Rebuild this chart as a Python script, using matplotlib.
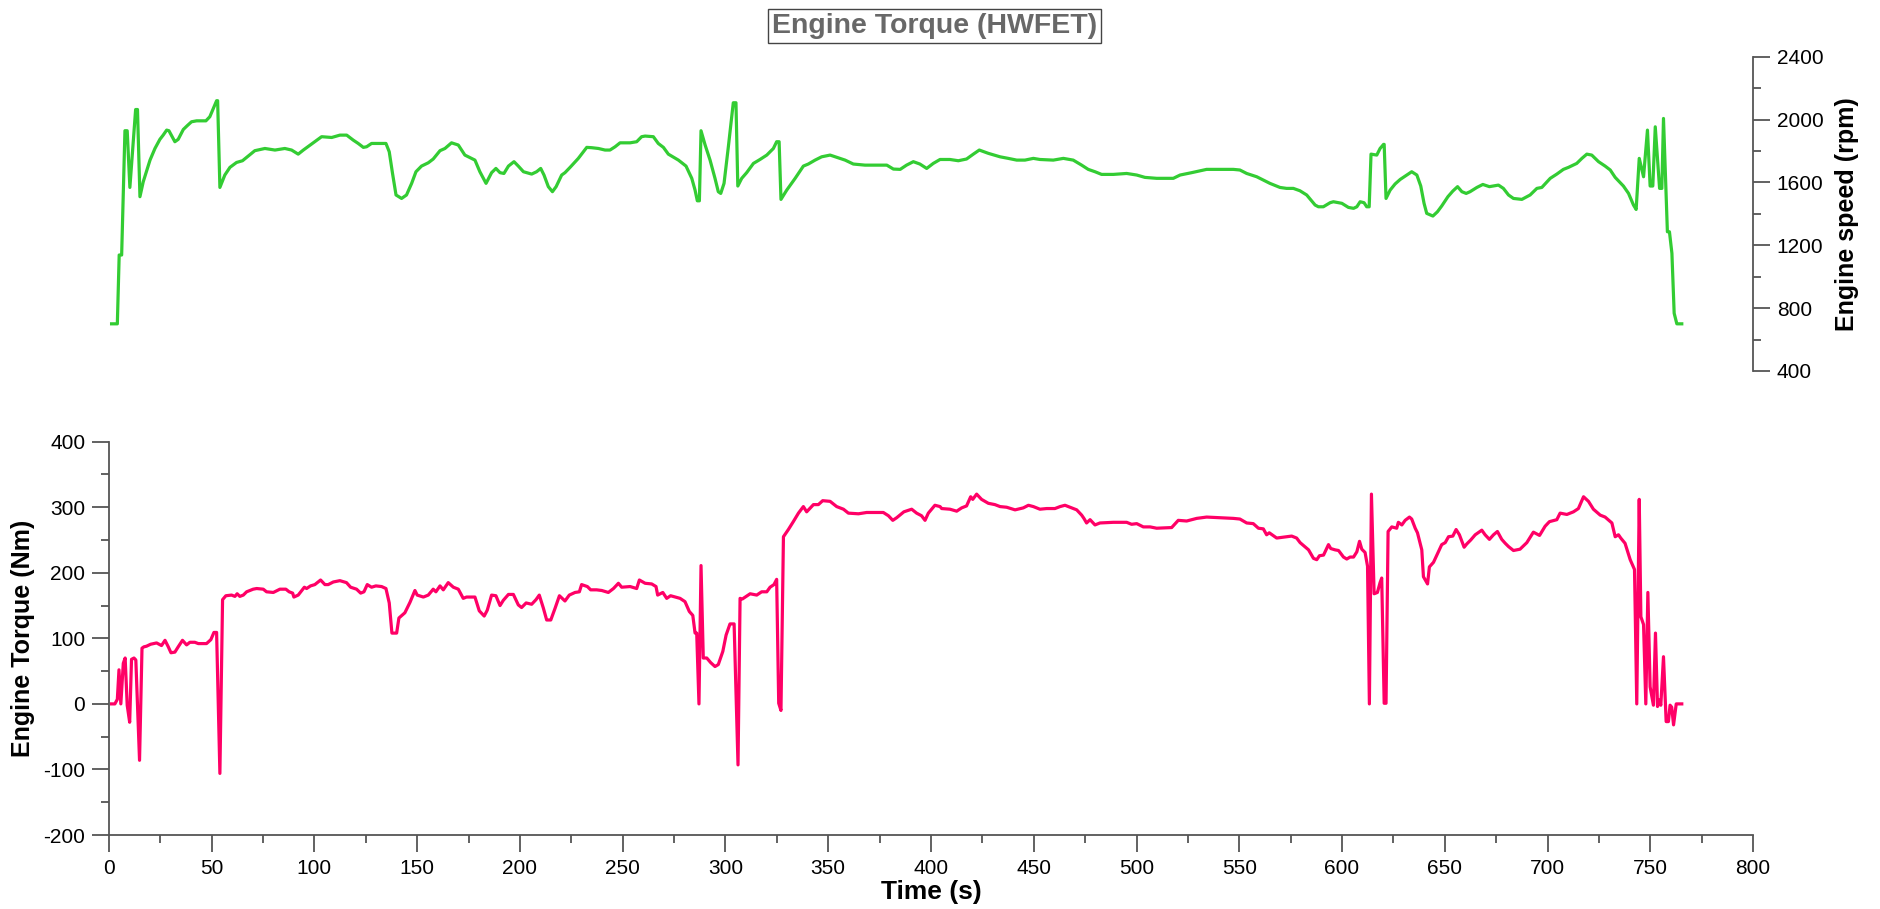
import matplotlib
matplotlib.use("Agg")
from matplotlib import pyplot as plt
from matplotlib.ticker import MultipleLocator

plt.rcParams['font.family'] = ['Liberation Sans', 'DejaVu Sans']
plt.rcParams['axes.unicode_minus'] = False

#--- Engine speed trace (rpm) over the HWFET cycle
speed_time = [1.3, 4.1, 5.0, 6.2, 7.8, 8.9, 10.2, 13.0, 13.9, 15.1, 16.7, 20.0, 22.4, 24.8,
              26.4, 28.1, 29.2, 32.1, 33.7, 36.2, 38.1, 40.2, 42.7, 47.2, 49.1, 50.8, 52.4,
              52.9, 54.0, 56.4, 58.9, 62.1, 65.0, 67.8, 71.0, 75.9, 80.8, 85.6, 88.9, 92.1,
              94.6, 99.4, 103.5, 108.4, 112.4, 115.7, 118.9, 121.3, 123.8, 125.4, 127.8,
              131.9, 134.8, 136.4, 138.0, 139.7, 142.4, 144.8, 147.3, 149.4, 152.1, 155.4,
              157.8, 161.1, 163.5, 166.7, 170.0, 173.2, 178.1, 180.5, 183.5, 186.2, 188.3,
              190.3, 192.2, 194.4, 197.1, 199.2, 201.7, 205.7, 208.1, 210.1, 211.7, 213.8,
              215.8, 217.6, 220.3, 221.9, 224.4, 228.4, 232.5, 234.9, 238.2, 241.4, 243.8,
              246.3, 248.7, 253.6, 256.8, 259.2, 260.9, 264.9, 267.3, 269.8, 272.2, 277.1,
              280.8, 283.6, 285.2, 286.3, 287.3, 288.1, 290.1, 292.5, 294.9, 296.5, 297.7,
              299.3, 301.4, 303.8, 305.1, 306.0, 307.9, 310.3, 313.6, 316.8, 320.1, 323.3,
              324.9, 326.1, 327.0, 329.8, 333.9, 337.9, 340.3, 343.6, 346.8, 350.9, 355.7,
              358.2, 362.2, 367.9, 378.5, 381.7, 385.0, 388.1, 391.4, 394.6, 397.9, 401.1,
              404.4, 409.2, 413.3, 417.3, 420.6, 423.5, 427.9, 433.6, 437.6, 441.7, 445.7,
              449.8, 453.0, 459.5, 464.4, 469.2, 473.3, 476.5, 479.8, 483.0, 488.7, 495.2,
              500.1, 504.1, 509.8, 517.9, 521.2, 526.8, 534.1, 547.1, 550.3, 553.6, 558.5,
              561.7, 564.9, 569.8, 573.0, 576.3, 579.5, 582.8, 586.9, 588.5, 590.9, 594.2,
              595.8, 599.9, 603.1, 605.6, 607.2, 608.8, 610.7, 612.0, 613.2, 614.1, 616.9,
              618.5, 620.2, 620.5, 621.4, 623.4, 625.8, 628.3, 631.5, 633.9, 636.4, 638.3,
              639.9, 641.2, 644.2, 646.4, 648.5, 651.5, 653.9, 656.2, 658.3, 660.4, 662.3,
              665.6, 668.5, 671.7, 676.1, 678.5, 681.0, 683.4, 687.5, 691.5, 694.8, 697.2,
              701.3, 704.5, 707.7, 710.2, 714.2, 716.7, 719.1, 721.5, 724.8, 728.0, 730.5,
              732.9, 736.9, 739.4, 741.8, 743.1, 744.6, 746.7, 748.6, 749.9, 751.2, 752.4,
              754.5, 755.6, 756.4, 758.3, 759.3, 760.5, 761.6, 762.9, 765.3]
speed_rpm = [700, 700, 1138, 1138, 1929, 1929, 1568, 2064, 2064, 1509, 1604, 1742, 1816, 1874,
             1901, 1933, 1929, 1859, 1874, 1937, 1961, 1986, 1992, 1992, 2018, 2071, 2120,
             2120, 1568, 1647, 1696, 1727, 1738, 1768, 1802, 1816, 1806, 1816, 1806, 1780,
             1806, 1852, 1891, 1886, 1901, 1901, 1869, 1848, 1823, 1827, 1848,
             1848, 1848, 1795, 1657, 1520, 1498, 1520, 1594, 1668, 1704, 1725,
             1749, 1802, 1816, 1852, 1838, 1774, 1742, 1668, 1594, 1662, 1689,
             1662, 1657, 1704, 1732, 1704, 1668, 1653, 1668, 1689, 1647, 1573,
             1541, 1573, 1647, 1662, 1696, 1753, 1823, 1821, 1816, 1806, 1806,
             1827, 1852, 1852, 1859, 1891, 1895, 1891, 1848, 1823, 1780, 1742,
             1704, 1626, 1551, 1483, 1483, 1929, 1838, 1742, 1626, 1541, 1530,
             1594, 1827, 2107, 2107, 1577, 1626, 1662, 1721, 1746, 1774, 1816,
             1859, 1859, 1492, 1551, 1626, 1704, 1717, 1742, 1763, 1774, 1753,
             1742, 1717, 1710, 1710, 1685, 1683, 1710, 1732, 1717, 1689, 1721,
             1746, 1746, 1738, 1749, 1780, 1806, 1785, 1763, 1753, 1742, 1742,
             1753, 1746, 1742, 1753, 1742, 1710, 1683, 1668, 1651, 1651, 1657,
             1647, 1632, 1626, 1626, 1647, 1662, 1683, 1683, 1679, 1657, 1636,
             1615, 1594, 1568, 1562, 1562, 1547, 1520, 1456, 1445, 1445, 1471,
             1477, 1467, 1441, 1435, 1445, 1477, 1471, 1445, 1445, 1780, 1774,
             1816, 1842, 1842, 1498, 1551, 1590, 1619, 1647, 1668, 1647, 1577,
             1467, 1403, 1386, 1413, 1450, 1509, 1545, 1573, 1541, 1530, 1541,
             1568, 1587, 1573, 1583, 1562, 1520, 1498, 1492, 1520, 1562, 1568,
             1626, 1653, 1683, 1696, 1721, 1753, 1780, 1774, 1732, 1704, 1679,
             1632, 1577, 1530, 1456, 1428, 1753, 1636, 1933, 1577, 1577, 1954,
             1562, 1562, 2007, 1286, 1286, 1149, 767, 700, 700]

#--- Engine torque trace (Nm) over the HWFET cycle
torque_time = [1.3, 2.9, 4.1, 4.9, 5.8, 7.0, 7.9, 8.9, 10.1, 11.0, 12.2, 13.1, 14.9, 16.1,
               17.0, 18.3, 20.3, 23.2, 25.6, 27.3, 28.9, 30.2, 32.1, 33.7, 35.8, 37.8, 39.4,
               41.8, 43.5, 47.5, 49.6, 51.1, 52.4, 54.0, 55.3, 56.9, 59.7, 61.3, 62.4, 63.7,
               65.4, 67.0, 70.2, 71.9, 75.1, 76.7, 80.0, 83.2, 86.1, 87.7, 89.4, 90.0, 92.1,
               95.1, 96.2, 98.1, 100.2, 103.0, 105.1, 106.7, 109.2, 112.4, 115.6, 117.6,
               120.5, 122.5, 124.1, 125.7, 127.8, 129.9, 132.7, 134.8, 136.4, 137.7, 140.0,
               141.1, 144.0, 146.5, 148.9, 150.0, 153.0, 155.4, 157.8, 159.1, 161.1, 162.7,
               165.1, 167.6, 170.0, 172.4, 174.0, 178.1, 180.2, 182.6, 184.1, 186.2, 188.3,
               190.3, 191.9, 194.4, 196.8, 199.2, 200.8, 203.0, 205.7, 207.8, 209.4, 211.4,
               213.0, 215.0, 217.1, 219.2, 221.9, 224.0, 226.8, 228.9, 230.0, 232.8, 234.4,
               237.3, 239.8, 243.0, 245.5, 247.9, 249.5, 253.6, 256.8, 258.1, 260.9, 264.1,
               266.2, 267.0, 269.5, 271.4, 273.3, 277.9, 280.3, 282.4, 284.1, 285.2, 286.0,
               287.1, 288.1, 289.2, 290.9, 292.8, 294.9, 296.5, 298.7, 300.3, 302.2, 304.2,
               306.1, 307.1, 308.2, 312.0, 315.2, 317.6, 320.1, 321.7, 323.6, 324.9, 325.9,
               327.0, 328.2, 330.6, 333.0, 335.5, 337.9, 339.5, 342.8, 345.2, 347.3, 350.9,
               354.1, 357.4, 359.8, 364.7, 368.7, 376.8, 379.3, 381.4, 383.3, 386.8, 390.6,
               393.0, 395.4, 397.1, 398.7, 401.9, 404.4, 405.2, 409.2, 412.5, 414.9, 417.3,
               419.3, 420.3, 422.2, 424.6, 427.9, 431.1, 433.6, 436.8, 440.9, 444.9, 447.4,
               449.8, 453.0, 456.3, 460.3, 462.8, 465.2, 468.4, 470.9, 473.3, 474.4, 475.7,
               477.4, 479.8, 482.2, 488.7, 495.2, 497.6, 500.1, 503.3, 506.6, 509.8, 517.1,
               520.3, 524.4, 529.3, 534.1, 547.1, 550.3, 553.6, 556.8, 559.3, 561.7, 563.3,
               564.6, 568.2, 573.0, 575.5, 577.9, 579.6, 581.5, 583.7, 586.1, 587.7, 589.0,
               591.0, 593.4, 594.5, 596.6, 598.3, 600.7, 602.3, 603.9, 605.6, 607.2, 608.5,
               609.6, 611.2, 612.4, 613.3, 614.3, 615.6, 617.2, 618.5, 619.3, 620.5, 621.4,
               622.4, 624.2, 626.6, 627.4, 629.1, 630.7, 632.8, 633.9, 635.6, 636.7, 638.8,
               639.6, 641.6, 642.5, 644.5, 646.9, 648.5, 650.2, 651.8, 653.9, 655.5, 657.1,
               659.4, 660.7, 662.6, 664.8, 668.0, 669.6, 671.7, 673.7, 675.6, 677.7, 679.4,
               681.0, 683.4, 686.6, 689.9, 693.1, 696.1, 698.8, 700.9, 704.5, 706.1, 709.4,
               712.6, 715.0, 717.5, 719.9, 722.3, 725.6, 728.0, 731.3, 732.9, 734.5, 735.6,
               737.7, 740.2, 742.3, 743.4, 744.6, 745.4, 746.7, 747.8, 748.8, 749.9, 751.5,
               752.5, 753.5, 754.3, 755.1, 756.4, 757.7, 758.8, 759.6, 760.4, 761.3, 762.6,
               765.3]
torque_nm = [0, 0, 7, 52, 0, 62, 70, -2, -28, 68, 70, 67, -86, 85,
             87, 88, 91, 93, 89, 97, 87, 78, 79, 87, 97, 90, 94,
             94, 92, 92, 98, 109, 109, -106, 159, 165, 166, 164, 168, 164,
             166, 171, 175, 176, 175, 171, 170, 175, 175, 171, 169, 163, 166,
             178, 176, 180, 182, 189, 182, 182, 186, 188, 185, 178,
             175, 169, 171, 182, 178, 180, 179, 176, 154, 108, 108,
             131, 139, 155, 173, 166, 163, 166, 175, 171, 180, 174,
             185, 178, 175, 161, 163, 163, 142, 134, 143, 166, 165,
             150, 158, 167, 167, 151, 147, 154, 152, 159, 166, 146,
             128, 128, 146, 165, 157, 166, 170, 171, 182, 179, 174,
             174, 173, 170, 176, 184, 178, 179, 176, 189, 184, 183,
             179, 166, 170, 161, 165, 161, 156, 141, 135, 108, 108,
             0, 211, 70, 70, 63, 57, 60, 80, 105, 122, 122,
             -93, 161, 160, 168, 166, 171, 171, 178, 182, 190, 1,
             -10, 255, 266, 278, 291, 301, 293, 304, 304, 310, 309,
             301, 297, 291, 290, 292, 292, 287, 280, 284, 293, 297,
             291, 287, 280, 291, 303, 301, 298, 297, 294, 299, 302,
             316, 312, 320, 312, 306, 304, 301, 300, 296, 299, 303,
             301, 297, 298, 298, 301, 303, 299, 296, 288, 283, 276,
             281, 273, 276, 277, 277, 274, 275, 270, 270, 268, 269,
             280, 279, 283, 285, 283, 282, 276, 275, 268, 267, 258,
             261, 253, 255, 256, 253, 246, 241, 235, 222, 220, 226,
             227, 243, 237, 235, 234, 224, 221, 224, 224, 232, 248,
             236, 231, 210, 0, 320, 168, 170, 185, 192, 1, 1,
             263, 270, 268, 277, 273, 280, 285, 282, 268, 261, 235,
             194, 183, 209, 216, 232, 243, 246, 255, 256, 266, 258,
             239, 244, 250, 258, 265, 258, 251, 258, 263, 251, 245,
             240, 234, 236, 246, 262, 257, 271, 278, 281, 291, 289,
             293, 298, 316, 309, 297, 288, 285, 276, 255, 258, 253,
             245, 220, 205, 0, 312, 133, 121, 0, 170, 26, -2,
             108, -4, 6, -2, 72, -27, -27, -2, -5, -32, 0,
             0]

speed_color = '#33cc33'
torque_color = '#ff0066'
axis_gray = '#555555'

fig = plt.figure(figsize=(18.81, 9.09), dpi=100)

# lower panel: torque with left axis and time axis
ax_t = fig.add_axes([0.0579, 0.0814, 0.8741, 0.4327])
ax_t.plot(torque_time, torque_nm, color=torque_color, lw=2.3)
ax_t.set_xlim(0, 800)
ax_t.set_ylim(-200, 400)
ax_t.xaxis.set_major_locator(MultipleLocator(50))
ax_t.xaxis.set_minor_locator(MultipleLocator(25))
ax_t.yaxis.set_major_locator(MultipleLocator(100))
ax_t.yaxis.set_minor_locator(MultipleLocator(50))
for side in ['top', 'right']:
  ax_t.spines[side].set_visible(False)
for side in ['left', 'bottom']:
  ax_t.spines[side].set_color(axis_gray)
  ax_t.spines[side].set_linewidth(1.3)
ax_t.tick_params(which='major', length=12, width=1.3, color=axis_gray, labelsize=15, pad=5)
ax_t.tick_params(which='minor', length=6, width=1.3, color=axis_gray)
ax_t.set_xlabel('Time (s)', fontsize=19, fontweight='bold', labelpad=2)
ax_t.set_ylabel('Engine Torque (Nm)', fontsize=18, fontweight='bold', labelpad=6)

# upper panel: engine speed with right axis only
ax_s = fig.add_axes([0.0579, 0.5919, 0.8741, 0.3457])
ax_s.plot(speed_time, speed_rpm, color=speed_color, lw=2.3)
ax_s.set_xlim(0, 800)
ax_s.set_ylim(400, 2400)
ax_s.yaxis.tick_right()
ax_s.yaxis.set_label_position('right')
ax_s.yaxis.set_major_locator(MultipleLocator(400))
ax_s.yaxis.set_minor_locator(MultipleLocator(200))
for side in ['top', 'left', 'bottom']:
  ax_s.spines[side].set_visible(False)
ax_s.spines['right'].set_color(axis_gray)
ax_s.spines['right'].set_linewidth(1.3)
ax_s.set_xticks([])
ax_s.tick_params(which='major', length=12, width=1.3, color=axis_gray, labelsize=15, pad=5)
ax_s.tick_params(which='minor', length=6, width=1.3, color=axis_gray)
ax_s.set_ylabel('Engine speed (rpm)', fontsize=18, fontweight='bold', labelpad=8)

fig.text(0.4968, 0.9714, 'Engine Torque (HWFET)', ha='center', va='center',
         fontsize=20.5, fontweight='bold', color='#686868',
         bbox=dict(boxstyle='square,pad=0.15', fc='white', ec='#444444', lw=1.0))

fig.savefig('out.png', dpi=100)
